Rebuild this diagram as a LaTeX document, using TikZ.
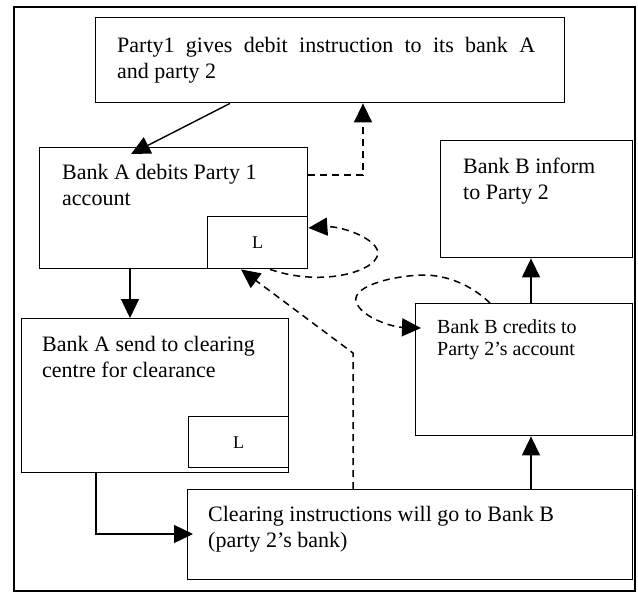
\documentclass[tikz,border=0pt]{standalone}
\usepackage{fontspec}
\setmainfont{Liberation Serif}
\usetikzlibrary{arrows.meta, positioning}

\begin{document}
\begin{tikzpicture}[
    x=1pt, y=-1pt,
    >={Triangle[length=19pt, width=18pt]},
    box/.style={draw, line width=1.4pt, anchor=north west, inner sep=0pt},
    lbox/.style={draw, line width=1.4pt, anchor=south east, minimum width=100pt, minimum height=52pt, font=\fontsize{18}{20}\selectfont},
    txt/.style={anchor=base west, align=left, inner sep=0pt, font=\fontsize{22}{25.5}\selectfont},
    flow/.style={->, line width=1.4pt},
    link/.style={->, line width=1.5pt, dash pattern=on 7pt off 5pt}
]
    \useasboundingbox (0,0) rectangle (638,592);

    % Frame
    \draw[line width=1.4pt] (14,7) rectangle (635,591);

    % Top Level (text nodes sit on the baseline of their last line)
    \node[box, minimum width=469pt, minimum height=85pt] (party1) at (95,17) {};
    \node[txt] (party1text) at (117,78)
        {\makebox[418pt][s]{Party1 gives debit instruction to its bank A}\\and party 2};

    % Bank A
    \node[box, minimum width=268pt, minimum height=121pt] (bankA) at (39,147) {};
    \node[txt] (bankAtext) at (62,205) {Bank A debits Party 1\\account};
    \node[lbox] (bankAL) at (bankA.south east) {L};

    \node[box, minimum width=267pt, minimum height=154pt] (send) at (21,318) {};
    \node[txt] (sendtext) at (42,377) {Bank A send to clearing\\centre for clearance};
    \node[lbox, minimum height=51pt] (sendL) at ([yshift=5pt]send.south east) {L};

    % Bank B
    \node[box, minimum width=192pt, minimum height=117pt] (inform) at (440,140) {};
    \node[txt] (informtext) at (463,199) {Bank B inform\\to Party 2};

    \node[box, minimum width=217pt, minimum height=132pt] (credits) at (415,303) {};
    \node[txt, font=\fontsize{20}{22}\selectfont] (creditstext) at (437,355)
        {Bank B credits to\\Party 2’s account};

    % Clearing
    \node[box, minimum width=445pt, minimum height=90pt] (clearing) at (187,489) {};
    \node[txt] (clearingtext) at (208,547)
        {Clearing instructions will go to Bank B\\(party 2’s bank)};

    % Solid flow
    \draw[flow] (party1.south -| 230,0) -- ([yshift=-7pt]bankA.north -| 131,0);
    \draw[flow] (bankA.south -| 130,0) -- (send.north -| 130,0);
    \draw[flow] (send.south -| 96,0) |- ([xshift=6pt]clearing.west |- 0,534);
    \draw[flow] (clearing.north -| 531,0) -- (credits.south -| 531,0);
    \draw[flow] (credits.north -| 531,0) -- (inform.south -| 531,0);

    % Dashed links
    \draw[link] (bankA.east |- 0,175) -| (party1.south -| 363,0);
    \draw[link] (bankAL.south -| 270,0) .. controls (330,290) and (392,266) .. (375,246)
        .. controls (364,233) and (336,226) .. (bankAL.east |- 0,228);
    \draw[link] (clearing.north -| 353,0) -- (353,353) -- (bankAL.south -| 241,0);
    \draw[link] (credits.north -| 490,0) .. controls (470,284) and (446,275) .. (423,275)
        .. controls (388,276) and (348,288) .. (357,304)
        .. controls (364,318) and (392,327) .. ([xshift=6pt]credits.west |- 0,328);

\end{tikzpicture}
\end{document}
